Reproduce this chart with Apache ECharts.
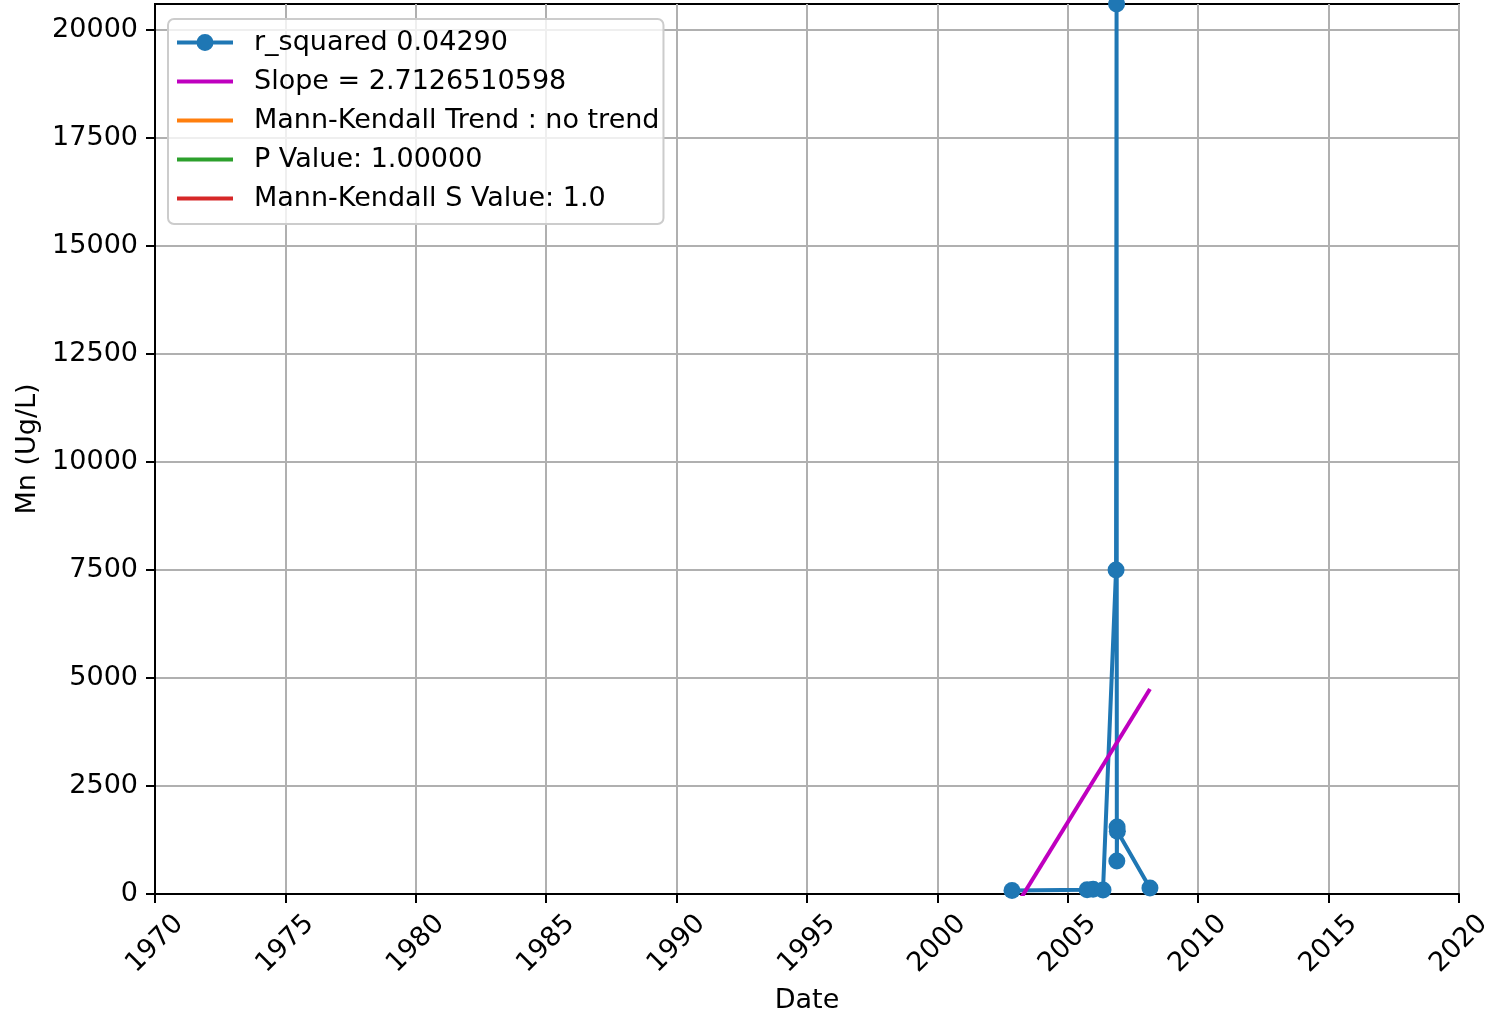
<!DOCTYPE html>
<html>
<head>
<meta charset="utf-8">
<script src="https://cdn.jsdelivr.net/npm/echarts@6/dist/echarts.min.js"></script>
<style>
html,body{margin:0;padding:0;background:#fff;}
#chart{width:1494px;height:1017px;}
</style>
</head>
<body>
<div id="chart"></div>
<script>
// Observed data (decimal year, Mn in Ug/L)
const dates = [2002.86, 2005.74, 2005.97, 2006.35, 2006.85, 2006.87, 2006.88, 2006.89, 2006.90, 2008.15];
const values = [80, 100, 110, 90, 7500, 20600, 765, 1550, 1450, 140];
// Trend line end points
const trendDates = [2002.86, 2008.15];
const trendValues = [-434, 4745];
// Tick labels
const xTicks = [1970, 1975, 1980, 1985, 1990, 1995, 2000, 2005, 2010, 2015, 2020];
const yTicks = [0, 2500, 5000, 7500, 10000, 12500, 15000, 17500, 20000];
const legendNames = ['r_squared 0.04290', 'Slope = 2.7126510598', 'Mann-Kendall Trend : no trend', 'P Value: 1.00000', 'Mann-Kendall S Value: 1.0'];
const colors = ['#1f77b4', '#bf00bf', '#ff7f0e', '#2ca02c', '#d62728'];

const FONT = 'DejaVu Sans';
const FS = 27;

// legend handle shapes (56 x 17 box)
const ICON_MARKER = 'path://M0,6.5L56,6.5L56,10.5L0,10.5Z M36.5,8.5A8.5,8.5 0 1 1 19.5,8.5A8.5,8.5 0 1 1 36.5,8.5Z';
const ICON_LINE = 'path://M0,0L0.01,0L0,0.01Z M0,6.5L56,6.5L56,10.5L0,10.5Z M56,17L55.99,17L56,16.99Z';

const chart = echarts.init(document.getElementById('chart'), null, {renderer: 'canvas'});
const option = {
  animation: false,
  backgroundColor: '#ffffff',
  textStyle: {fontFamily: FONT},
  grid: {left: 155, right: 35, top: 4, bottom: 123, outerBoundsMode: 'none', containLabel: false,
    show: true, borderColor: '#000', borderWidth: 2, backgroundColor: 'transparent'},
  legend: {
    orient: 'vertical',
    left: 168, top: 19,
    padding: [10, 4, 12, 9],
    backgroundColor: 'rgba(255,255,255,0.8)',
    borderColor: '#cccccc', borderWidth: 2, borderRadius: 6,
    itemWidth: 56, itemHeight: 17, itemGap: 12,
    symbolKeepAspect: true,
    textStyle: {fontFamily: FONT, fontSize: FS, color: '#000', lineHeight: 26, padding: [0, 0, 0, 16]},
    data: legendNames.map((n, i) => ({name: n, icon: i === 0 ? ICON_MARKER : ICON_LINE, itemStyle: {color: colors[i]}}))
  },
  xAxis: {
    type: 'value', min: xTicks[0], max: xTicks[xTicks.length - 1], interval: 5,
    name: 'Date', nameLocation: 'middle', nameGap: 93,
    nameTextStyle: {fontFamily: FONT, fontSize: FS, color: '#000'},
    axisLine: {show: true, onZero: false, lineStyle: {color: '#000', width: 2}},
    axisTick: {show: true, length: 9, lineStyle: {color: '#000', width: 2}},
    axisLabel: {fontFamily: FONT, fontSize: FS, color: '#000', rotate: 45, align: 'center', verticalAlign: 'middle', margin: 50,
      formatter: v => String(v)},
    splitLine: {show: true, lineStyle: {color: '#b0b0b0', width: 2}}
  },
  yAxis: {
    type: 'value', min: 0, max: 20600, interval: 2500,
    name: 'Mn (Ug/L)', nameLocation: 'middle', nameGap: 112,
    nameTextStyle: {fontFamily: FONT, fontSize: FS, color: '#000'},
    axisLine: {show: true, onZero: false, lineStyle: {color: '#000', width: 2}},
    axisTick: {show: true, length: 9, lineStyle: {color: '#000', width: 2}, customValues: yTicks},
    axisLabel: {fontFamily: FONT, fontSize: FS, color: '#000', margin: 17, customValues: yTicks,
      formatter: v => (yTicks.indexOf(v) >= 0 ? String(v) : '')},
    splitLine: {show: true, lineStyle: {color: '#b0b0b0', width: 2}}
  },
  series: [
    {
      name: legendNames[0], type: 'line', clip: true,
      data: dates.map((d, i) => [d, values[i]]),
      symbol: 'circle', symbolSize: 17, showSymbol: true,
      lineStyle: {color: colors[0], width: 4},
      itemStyle: {color: colors[0]},
      z: 3
    },
    {
      name: legendNames[1], type: 'line', clip: true,
      data: trendDates.map((d, i) => [d, trendValues[i]]),
      symbol: 'none',
      lineStyle: {color: colors[1], width: 4},
      itemStyle: {color: colors[1]},
      z: 4
    },
    {name: legendNames[2], type: 'line', data: [], symbol: 'none', lineStyle: {color: colors[2], width: 4}, itemStyle: {color: colors[2]}},
    {name: legendNames[3], type: 'line', data: [], symbol: 'none', lineStyle: {color: colors[3], width: 4}, itemStyle: {color: colors[3]}},
    {name: legendNames[4], type: 'line', data: [], symbol: 'none', lineStyle: {color: colors[4], width: 4}, itemStyle: {color: colors[4]}}
  ]
};
chart.setOption(option);
</script>
</body>
</html>
